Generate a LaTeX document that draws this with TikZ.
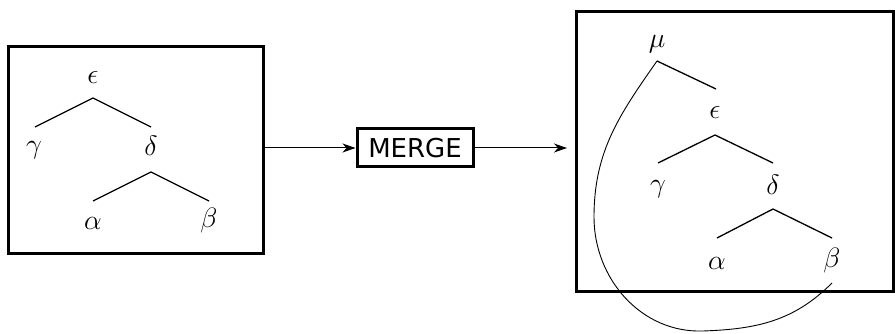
\documentclass[tikz,border=0pt]{standalone}
\usepackage{fix-cm}
\usepackage{fontspec}
\newfontfamily\mergefont{DejaVu Sans}
\usetikzlibrary{arrows.meta,calc}
\begin{document}
\begin{tikzpicture}[x=1pt,y=-1pt,
  frame/.style={draw,line width=3pt,inner sep=0pt},
  lbl/.style={inner sep=0pt,font=\fontsize{28}{32}\selectfont},
  branch/.style={line width=1.3pt},
  arr/.style={line width=1pt,-{Stealth[length=13pt,width=9pt,inset=4pt]}}]
\useasboundingbox (0,0) rectangle (895,334);
% frames
\node[frame,minimum width=255pt,minimum height=206pt] (lbox) at (135.5,150) {};
\node[frame,minimum width=317pt,minimum height=279pt] (rbox) at (734.5,151.5) {};
\node[frame,minimum width=116pt,minimum height=38pt,font=\mergefont\fontsize{26}{30}\selectfont] (merge) at (415,148) {MERGE};
\coordinate (rin) at (567,148);
\draw[arr] (lbox.east |- merge.west) -- (merge.west);
\draw[arr] (merge.east) -- (rin);
% left tree
\node[lbl] (le) at (93,77) {$\epsilon$};
\node[lbl] (lg) at (34,150) {$\gamma$};
\node[lbl] (ld) at (151,146) {$\delta$};
\node[lbl] (la) at (93,223) {$\alpha$};
\node[lbl] (lb) at (209,220) {$\beta$};
\draw[branch] ($(lg)+(1,-23)$) -- ($(le)+(0,21)$) -- ($(ld)+(0,-19)$);
\draw[branch] ($(la)+(0,-22)$) -- ($(ld)+(0,26)$) -- ($(lb)+(0,-19)$);
% right tree
\node[lbl] (rm) at (657,44) {$\mu$};
\node[lbl] (re) at (715,112) {$\epsilon$};
\node[lbl] (rg) at (658,189) {$\gamma$};
\node[lbl] (rd) at (773,185) {$\delta$};
\node[lbl] (ra) at (717,263) {$\alpha$};
\node[lbl] (rb) at (832,260) {$\beta$};
\draw[branch] ($(rm)+(0,17)$) -- ($(re)+(1,-23)$);
\draw[branch] ($(rg)+(0,-26)$) -- ($(re)+(0,23)$) -- ($(rd)+(0,-22)$);
\draw[branch] ($(ra)+(0,-25)$) -- ($(rd)+(0,24)$) -- ($(rb)+(0,-22)$);
% movement curve
\draw[line width=0.9pt] ($(rm)+(0,17)$) to[out=235,in=90] (594,217) to[out=270,in=182] (703,331) to[out=2,in=225] ($(rb)+(0,23)$);
\end{tikzpicture}
\end{document}
